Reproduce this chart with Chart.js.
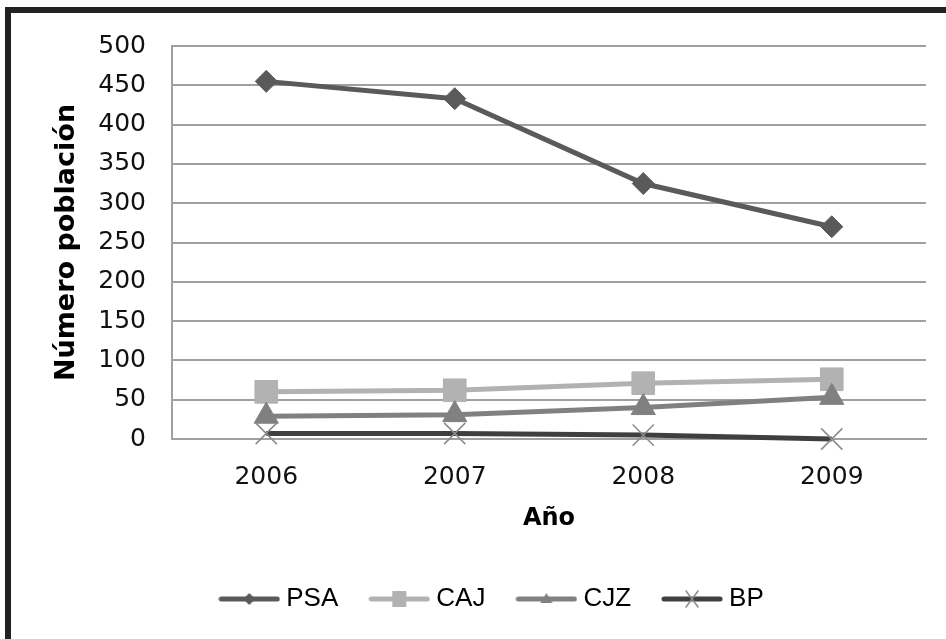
<!DOCTYPE html>
<html>
<head>
<meta charset="utf-8">
<script src="https://cdn.jsdelivr.net/npm/chart.js@4"></script>
<style>
  html, body { margin: 0; padding: 0; background: #fff; }
  #frame {
    position: absolute; left: 5px; top: 7px;
    width: 935px; height: 626px;
    border-top: 6px solid #222; border-left: 6px solid #222;
  }
  #wrap { position: relative; width: 935px; height: 626px; }
</style>
</head>
<body>
<div id="frame"><div id="wrap"><canvas id="myChart"></canvas></div></div>
<script>
const years = ['2006', '2007', '2008', '2009'];
const psa = [455, 433, 325, 270];
const caj = [60, 62, 71, 76];
const cjz = [29, 31, 40, 53];
const bp = [7, 7, 5, 0];
const seriesNames = ['PSA', 'CAJ', 'CJZ', 'BP'];

const colPSA = '#5a5a5a';
const colCAJ = '#b2b2b2';
const colCJZ = '#808080';
const colBP = '#3f3f3f';
const colCross = '#8a8a8a';

// little line+marker pictures for the legend
function legendIcon(lineCol, draw) {
  const c = document.createElement('canvas');
  c.width = 62; c.height = 24;
  const g = c.getContext('2d');
  g.strokeStyle = lineCol;
  g.lineWidth = 5;
  g.lineCap = 'round';
  g.beginPath(); g.moveTo(3, 12); g.lineTo(59, 12); g.stroke();
  draw(g);
  return c;
}
const icons = [
  legendIcon(colPSA, g => { g.fillStyle = colPSA; g.beginPath(); g.moveTo(31, 6); g.lineTo(37, 12); g.lineTo(31, 18); g.lineTo(25, 12); g.fill(); }),
  legendIcon(colCAJ, g => { g.fillStyle = colCAJ; g.fillRect(24, 4, 14, 16); }),
  legendIcon(colCJZ, g => { g.fillStyle = colCJZ; g.beginPath(); g.moveTo(31, 6); g.lineTo(37, 16); g.lineTo(25, 16); g.fill(); }),
  legendIcon(colBP, g => { g.strokeStyle = colCross; g.lineWidth = 1.5; g.beginPath(); g.moveTo(25, 4); g.lineTo(37, 20); g.moveTo(37, 4); g.lineTo(25, 20); g.stroke(); })
];

const ctx = document.getElementById('myChart').getContext('2d');

const myChart = new Chart(ctx, {
  type: 'line',
  data: {
    labels: years,
    datasets: [{
      label: seriesNames[0], data: psa, order: 4,
      borderColor: colPSA, backgroundColor: colPSA, borderWidth: 5,
      pointStyle: 'rectRot', pointRadius: 11, pointBorderWidth: 1, clip: false
    }, {
      label: seriesNames[1], data: caj, order: 3,
      borderColor: colCAJ, backgroundColor: colCAJ, borderWidth: 5,
      pointStyle: 'rect', pointRadius: 16, pointBorderWidth: 1, clip: false
    }, {
      label: seriesNames[2], data: cjz, order: 2,
      borderColor: colCJZ, backgroundColor: colCJZ, borderWidth: 5,
      pointStyle: 'triangle', pointRadius: 14, pointBorderWidth: 1, clip: false
    }, {
      label: seriesNames[3], data: bp, order: 1,
      borderColor: colBP, backgroundColor: colCross, borderWidth: 5,
      pointStyle: 'crossRot', pointRadius: 15, pointBorderColor: colCross, pointBorderWidth: 1.5, clip: false
    }]
  },
  options: {
    responsive: true,
    maintainAspectRatio: false,
    animation: false,
    layout: { padding: { left: 32, right: 0, top: 33, bottom: 17 } },
    plugins: {
      tooltip: { enabled: false },
      legend: {
        position: 'bottom',
        labels: {
          usePointStyle: true,
          pointStyleWidth: 48,
          padding: 37,
          color: '#000',
          font: { family: 'Liberation Sans', size: 26 },
          generateLabels: chart => chart.data.datasets.map((ds, i) => ({
            text: ds.label, pointStyle: icons[i], datasetIndex: i,
            fillStyle: ds.borderColor, strokeStyle: ds.borderColor, lineWidth: 0, hidden: false
          }))
        }
      }
    },
    scales: {
      x: {
        offset: true,
        grid: { display: false, drawTicks: false },
        border: { display: true, color: '#a0a0a0', width: 2 },
        ticks: { padding: 23, color: '#111', font: { family: 'DejaVu Sans', size: 25 } },
        title: {
          display: true, text: 'Año', color: '#000',
          font: { family: 'DejaVu Sans', size: 24, weight: 'bold' },
          padding: { top: 0, bottom: 16 }
        },
        afterFit: s => { s.height = 110; }
      },
      y: {
        min: 0, max: 500,
        ticks: { stepSize: 50, padding: 26, color: '#111', font: { family: 'DejaVu Sans', size: 25 } },
        grid: { color: '#a0a0a0', lineWidth: 2, drawTicks: false },
        border: { display: true, color: '#a0a0a0', width: 2 },
        title: {
          display: true, text: 'Número población', color: '#000',
          font: { family: 'DejaVu Sans', size: 27, weight: 'bold' },
          padding: { top: 8, bottom: 0 }
        },
        afterFit: s => { s.width = 129; s.paddingTop = 0; s.paddingBottom = 0; }
      },
      yR: {
        position: 'right',
        display: true,
        grid: { display: false, drawTicks: false },
        border: { display: false },
        ticks: { display: false },
        afterFit: s => { s.width = 20; s.paddingTop = 0; s.paddingBottom = 0; }
      }
    }
  }
});
</script>
</body>
</html>
